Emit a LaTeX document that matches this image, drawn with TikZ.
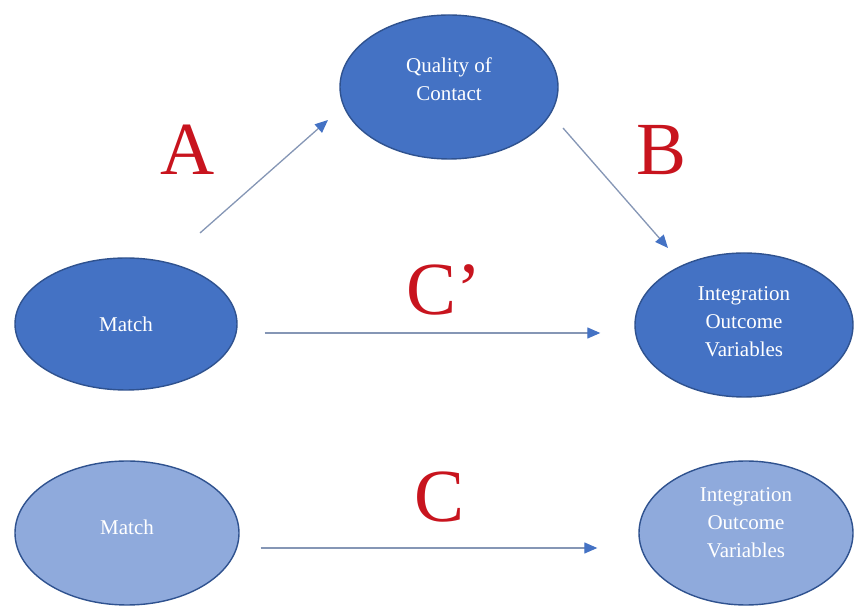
\documentclass[tikz,border=0pt]{standalone}
\usepackage{fontspec}
\setmainfont{Liberation Serif}
\usepackage{tikz}
\usetikzlibrary{
  calc,
  positioning,
  arrows.meta,
  shapes,
  shapes.geometric
}
\definecolor{darkfill}{HTML}{4472C4}
\definecolor{lightfill}{HTML}{8FAADC}
\definecolor{rimblue}{HTML}{2F528F}
\definecolor{linegray}{HTML}{8596B5}
\definecolor{labelred}{HTML}{C8141E}

\begin{document}
\begin{tikzpicture}[x=1pt,y=1pt,>={Triangle[length=13pt,width=11pt,color=darkfill]}]
  \tikzset{
    bubble/.style={
      ellipse, draw=rimblue, line width=1.4pt, inner sep=0pt
    },
    bubble text/.style={
      text=white, align=center, inner sep=0pt,
      font=\fontsize{21}{28}\selectfont
    },
    dark bubble/.style={bubble, fill=darkfill},
    light bubble/.style={bubble, fill=lightfill},
    path label/.style={
      text=labelred, anchor=base, inner sep=0pt,
      font=\fontsize{75}{75}\selectfont
    },
    link/.style={->, draw=linegray, line width=1.3pt}
  }
  \useasboundingbox (0,0) rectangle (854,607);

  % mediation model
  \node[dark bubble, minimum width=218pt, minimum height=144pt,
    label={[bubble text, yshift=8pt]center:Quality of\\Contact}] (quality) at (449,520) {};
  \node[dark bubble, minimum width=222pt, minimum height=132pt,
    label={[bubble text]center:Match}] (match) at (126,283) {};
  \node[dark bubble, minimum width=218pt, minimum height=144pt,
    label={[bubble text, yshift=3pt]center:Integration\\Outcome\\Variables}] (outcome) at (744,282) {};

  % total effect
  \node[light bubble, minimum width=224pt, minimum height=144pt,
    label={[bubble text, yshift=6pt]center:Match}] (match total) at (127,74) {};
  \node[light bubble, minimum width=214pt, minimum height=144pt,
    label={[bubble text, yshift=10pt]center:Integration\\Outcome\\Variables}] (outcome total) at (746,74) {};

  \coordinate (a start) at (200,374);
  \coordinate (a end) at (328,487);
  \coordinate (b start) at (563,479);
  \coordinate (b end) at (668,359);
  \coordinate (cp start) at ($(match.east)+(27,-9)$);
  \coordinate (cp end) at ($(outcome.west)+(-34,-8)$);
  \coordinate (c start) at ($(match total.east)+(21,-15)$);
  \coordinate (c end) at ($(outcome total.west)+(-41,-15)$);

  \draw[link] (a start) -- (a end);
  \draw[link] (b start) -- (b end);
  \draw[link] (cp start) -- (cp end);
  \draw[link] (c start) -- (c end);

  \node[path label] (label a) at (188,432) {A};
  \node[path label] (label b) at (662,432) {B};
  \node[path label] (label cp) at (444,292) {C’};
  \node[path label] (label c) at (440,85) {C};
\end{tikzpicture}
\end{document}
